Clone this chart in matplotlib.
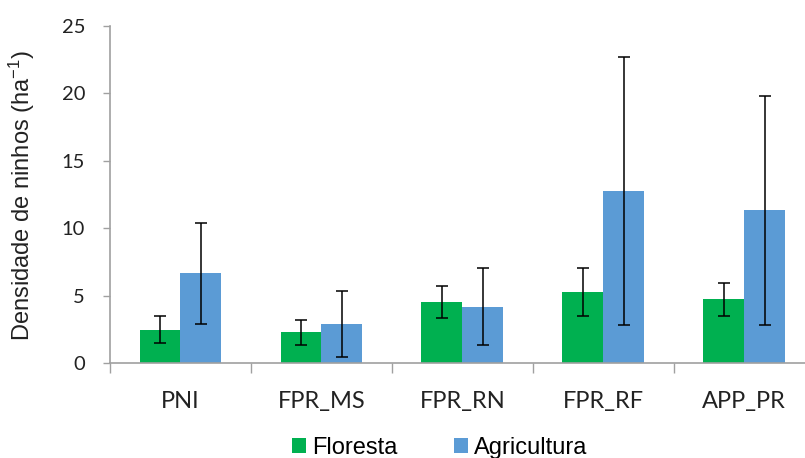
import matplotlib
matplotlib.use("Agg")
import matplotlib.pyplot as plt
import numpy as np

plt.rcParams['font.family'] = ['Liberation Sans', 'DejaVu Sans']
plt.rcParams['mathtext.fontset'] = 'custom'
plt.rcParams['mathtext.rm'] = 'Liberation Sans'
plt.rcParams['mathtext.it'] = 'Liberation Sans'

# data
sites = ["PNI", "FPR_MS", "FPR_RN", "FPR_RF", "APP_PR"]
series_names = ["Floresta", "Agricultura"]
floresta = [2.5, 2.3, 4.57, 5.3, 4.75]
floresta_err = [1.0, 0.92, 1.19, 1.79, 1.22]
agricultura = [6.68, 2.9, 4.2, 12.75, 11.33]
agricultura_err = [3.75, 2.47, 2.85, 9.93, 8.5]
yticks = [0, 5, 10, 15, 20, 25]

green = "#00B050"
blue = "#5B9BD5"
axis_gray = "#A0A0A0"

fig = plt.figure(figsize=(8.05, 4.58), dpi=100)
W, H = 805, 458
# axis line runs past the right edge of the picture, like the original
ax = fig.add_axes([110 / W, (H - 363.3) / H, 704.7 / W, 337.3 / H])

x = np.arange(len(sites))
bw = 0.29
ax.bar(x - bw / 2, floresta, bw, color=green, label=series_names[0], zorder=2)
ax.bar(x + bw / 2, agricultura, bw, color=blue, label=series_names[1], zorder=2)
ax.errorbar(x - bw / 2, floresta, yerr=floresta_err, fmt="none", ecolor="black",
            elinewidth=1.1, capsize=4.5, capthick=1.1, zorder=3)
ax.errorbar(x + bw / 2, agricultura, yerr=agricultura_err, fmt="none", ecolor="black",
            elinewidth=1.1, capsize=4.5, capthick=1.1, zorder=3)

ax.set_xlim(-0.5, len(sites) - 0.5)
ax.set_ylim(0, 25)
ax.set_yticks(yticks)
ax.set_xticks(x)
ax.set_xticklabels(sites)
ax.set_xticks(np.arange(len(sites) + 1) - 0.5, minor=True)

for s in ["top", "right"]:
    ax.spines[s].set_visible(False)
for s in ["left", "bottom"]:
    ax.spines[s].set_color(axis_gray)
    ax.spines[s].set_linewidth(1.2)

ax.tick_params(axis="y", direction="out", length=5, width=1, color=axis_gray,
               pad=13, labelsize=14.5, labelcolor="#222222")
ax.tick_params(axis="x", which="major", length=0, pad=20, labelsize=17,
               labelcolor="#222222")
ax.tick_params(axis="x", which="minor", direction="out", length=7, width=1,
               color=axis_gray)
for lab in ax.get_xticklabels() + ax.get_yticklabels():
    lab.set_family(["Lato", "DejaVu Sans"])

ax.set_ylabel("Densidade de ninhos (ha$^{-1}$)", fontsize=17, color="#222222")
ax.yaxis.set_label_coords(-0.104, 0.496)

fig.legend(loc="lower left", bbox_to_anchor=(292 / W, -0.002), ncol=2,
           frameon=False, fontsize=17, handlelength=0.6, handleheight=0.6,
           handletextpad=0.25, columnspacing=2.4, borderpad=0, borderaxespad=0)

fig.savefig("out.png", dpi=100)
